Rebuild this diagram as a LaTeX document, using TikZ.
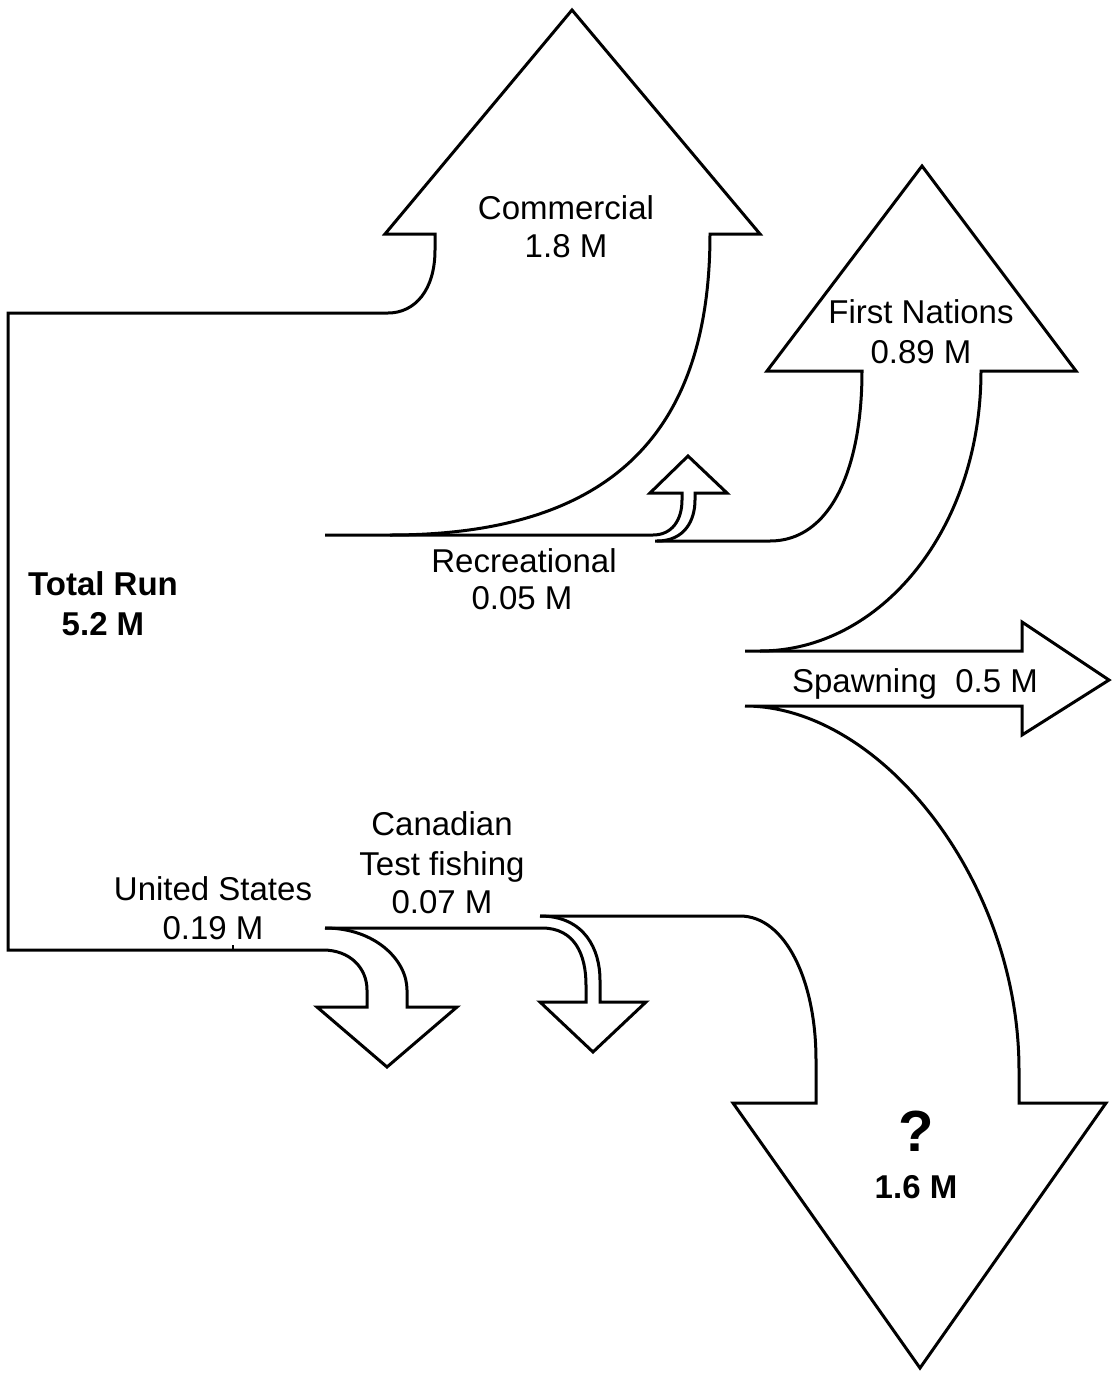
\documentclass[tikz,border=0pt]{standalone}
\usepackage{fontspec}
\setmainfont{Liberation Sans}
\begin{document}
\begin{tikzpicture}[x=1pt,y=-1pt,
  flow/.style={draw=black, line width=3pt, line join=miter, miter limit=10},
  lbl/.style={anchor=base, inner sep=0pt, font=\fontsize{33}{38}\selectfont},
  blbl/.style={anchor=base, inner sep=0pt, font=\fontsize{33}{38}\selectfont\bfseries}]
\useasboundingbox[fill=white] (0,0) rectangle (1113,1374);

% Commercial arrow, total run outline, United States arrow
\draw[flow] (390,535) .. controls (610,535) and (710,434) .. (710,234)
  -- (760,234) -- (572,10) -- (385,234) -- (435,234) -- (435,250)
  .. controls (435,290) and (415,313) .. (388,313)
  -- (8,313) -- (8,950) -- (323,950)
  .. controls (350,950) and (367,968) .. (367,990) -- (367,1007)
  -- (317,1007) -- (387,1067) -- (457,1007) -- (407,1007) -- (407,990)
  .. controls (407,960) and (375,928) .. (325,928);

% Recreational arrow
\draw[flow] (325,535) -- (653,535)
  .. controls (672,535) and (682,520) .. (682,500) -- (682,493)
  -- (650,493) -- (688,456) -- (727,493) -- (695,493) -- (695,500)
  .. controls (695,520) and (685,541) .. (657,541);

% Canadian test fishing arrow
\draw[flow] (325,928) -- (542,928)
  .. controls (575,928) and (586,955) .. (586,985) -- (586,1002)
  -- (540,1002) -- (593,1052) -- (646,1002) -- (600,1002) -- (600,980)
  .. controls (600,950) and (585,916) .. (540,916);

% Unknown (?) arrow and spawning arrow
\draw[flow] (540,916) -- (740,916)
  .. controls (785,916) and (816,980) .. (816,1060) -- (816,1103)
  -- (733,1103) -- (920,1368) -- (1106,1103) -- (1019,1103) -- (1019,1070)
  .. controls (1019,880) and (880,706) .. (745,706)
  -- (1022,706) -- (1022,735) -- (1109,680) -- (1022,622) -- (1022,651) -- (745,651);

% First Nations arrow
\draw[flow] (760,651) .. controls (880,651) and (981,530) .. (981,371)
  -- (1076,371) -- (922,166) -- (767,371) -- (862,371)
  .. controls (862,470) and (830,541) .. (770,541) -- (655,541);

% small tick
\draw[line width=2pt] (233,950) -- (233,945);

% labels
\node[lbl] (com1) at (566,219) {Commercial};
\node[lbl] (com2) at (566,257) {1.8 M};
\node[lbl] (fn1) at (921,323) {First Nations};
\node[lbl] (fn2) at (921,363) {0.89 M};
\node[lbl] (rec1) at (524,572) {Recreational};
\node[lbl] (rec2) at (522,609) {0.05 M};
\node[lbl] (spw) at (915,692) {Spawning\ \ 0.5 M};
\node[lbl] (can1) at (442,835) {Canadian};
\node[lbl] (can2) at (442,875) {Test fishing};
\node[lbl] (can3) at (442,913) {0.07 M};
\node[lbl] (us1) at (213,900) {United States};
\node[lbl] (us2) at (213,939) {0.19 M};
\node[blbl] (tot1) at (103,595) {Total Run};
\node[blbl] (tot2) at (103,635) {5.2 M};
\node[anchor=base, inner sep=0pt, font=\fontsize{58}{64}\selectfont\bfseries] (q1) at (916,1151) {?};
\node[blbl] (q2) at (916,1198) {1.6 M};
\end{tikzpicture}
\end{document}
